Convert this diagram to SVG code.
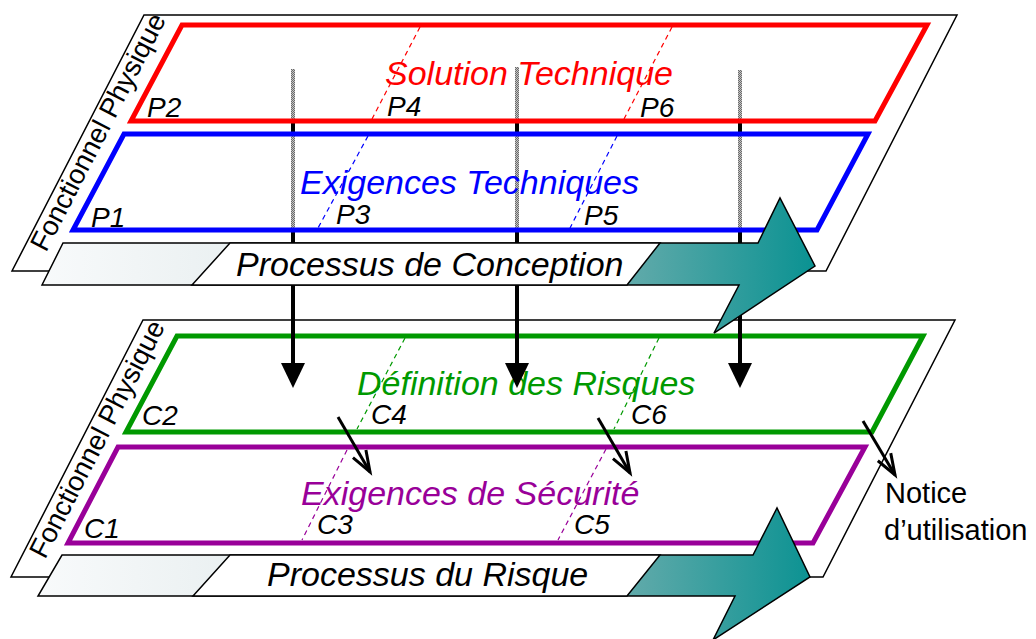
<svg xmlns="http://www.w3.org/2000/svg" width="1036" height="639" viewBox="0 0 1036 639">
<defs>
<style>
.plane{fill:#fff;stroke:#000;stroke-width:1.5}
.fr{fill:none;stroke-width:5;stroke-linejoin:miter}
.dash{fill:none;stroke-width:1.2;stroke-dasharray:5 4}
.t{font-family:"Liberation Sans",Arial,sans-serif;}
.it{font-style:italic}
.big{font-size:34px}
.lab{font-size:28px;fill:#000}
.side{font-size:27.5px;fill:#000}
.band{stroke:#000;stroke-width:1.5;fill:url(#grad)}
.box{fill:#fff;stroke:#000;stroke-width:1.5}
.vline{stroke:#000;stroke-width:4}
.dline{stroke:#000;stroke-width:3;fill:none}
</style>
<linearGradient id="grad" gradientUnits="userSpaceOnUse" x1="40" y1="0" x2="815" y2="0">
<stop offset="0" stop-color="#f8fafb"/>
<stop offset="0.25" stop-color="#eaf0f1"/>
<stop offset="0.78" stop-color="#5aa8a8"/>
<stop offset="1" stop-color="#0a9292"/>
</linearGradient>
<pattern id="dots" width="2" height="2" patternUnits="userSpaceOnUse">
<rect width="2" height="2" fill="#c4c4c4"/>
<rect width="1" height="1" fill="#6a6a6a"/>
<rect x="1" y="1" width="1" height="1" fill="#6a6a6a"/>
</pattern>
<marker id="open" markerUnits="userSpaceOnUse" markerWidth="30" markerHeight="30" orient="auto" overflow="visible">
<path d="M-21,-7.5 L0,0 L-21,7.5" fill="none" stroke="#000" stroke-width="3"/>
</marker>
</defs>

<g id="lower-plane">
<polygon class="plane" points="143,320 955,320 823,577 11,577"/>
<text class="t side" transform="translate(45,560) rotate(-62.7)">Fonctionnel Physique</text>
</g>
<g id="definition-risques">
<polygon class="fr" stroke="#009900" points="177,336 923,336 872,432 126,432"/>
<line class="dash" stroke="#009900" x1="405" y1="338" x2="357" y2="429"/>
<line class="dash" stroke="#009900" x1="659" y1="338" x2="614" y2="429"/>
<text class="t it big" x="357" y="395" fill="#009900">Définition des Risques</text>
<text class="t it lab" x="142" y="425">C2</text>
<text class="t it lab" x="371" y="424">C4</text>
<text class="t it lab" x="631" y="424">C6</text>
</g>
<g id="exigences-securite">
<polygon class="fr" stroke="#990099" points="118,447 865,447 813,543 68,543"/>
<line class="dash" stroke="#990099" x1="347" y1="450" x2="302" y2="540"/>
<line class="dash" stroke="#990099" x1="606" y1="449" x2="558" y2="540"/>
<text class="t it big" x="301" y="505" fill="#990099">Exigences de Sécurité</text>
<text class="t it lab" x="84" y="538">C1</text>
<text class="t it lab" x="317" y="534">C3</text>
<text class="t it lab" x="574" y="534">C5</text>
</g>

<g id="upper-plane">
<polygon class="plane" points="144,15 957,15 826,271 12,271"/>
<text class="t side" transform="translate(46,253) rotate(-62.7)">Fonctionnel Physique</text>
</g>

<g id="connectors">
<g id="vertical-arrows">
<line class="vline" x1="293" y1="69" x2="293" y2="366"/>
<polygon points="281,363 305,363 293,388" fill="#000"/>
<line class="vline" x1="517" y1="67" x2="517" y2="366"/>
<polygon points="505,363 529,363 517,388" fill="#000"/>
<line class="vline" x1="740" y1="70" x2="740" y2="366"/>
<polygon points="728,363 752,363 740,388" fill="#000"/>
<rect x="291" y="69" width="4" height="52" fill="url(#dots)"/>
<rect x="291" y="135" width="4" height="94" fill="url(#dots)"/>
<rect x="515" y="67" width="4" height="54" fill="url(#dots)"/>
<rect x="515" y="135" width="4" height="94" fill="url(#dots)"/>
<rect x="738" y="70" width="4" height="51" fill="url(#dots)"/>
<rect x="738" y="135" width="4" height="94" fill="url(#dots)"/>
</g>
<line class="dline" x1="338" y1="417" x2="370" y2="472" marker-end="url(#open)"/>
<line class="dline" x1="598" y1="418" x2="630" y2="473" marker-end="url(#open)"/>
<line class="dline" x1="863" y1="421" x2="895" y2="475" marker-end="url(#open)"/>
</g>

<g id="solution-technique">
<polygon class="fr" stroke="#ff0000" points="182,25 927,25 875,121 131,121"/>
<line class="dash" stroke="#ff0000" x1="420" y1="27" x2="372" y2="119"/>
<line class="dash" stroke="#ff0000" x1="672" y1="27" x2="624" y2="119"/>
<text class="t it big" x="385" y="85" fill="#ff0000">Solution Technique</text>
<text class="t it lab" x="147" y="117">P2</text>
<text class="t it lab" x="387" y="116">P4</text>
<text class="t it lab" x="640" y="117">P6</text>
</g>
<g id="exigences-techniques">
<polygon class="fr" stroke="#0000ff" points="124,134 868,134 817,230 73,230"/>
<line class="dash" stroke="#0000ff" x1="368" y1="136" x2="318" y2="228"/>
<line class="dash" stroke="#0000ff" x1="617" y1="136" x2="570" y2="228"/>
<text class="t it big" x="300" y="194" fill="#0000ff">Exigences Techniques</text>
<text class="t it lab" x="91" y="227">P1</text>
<text class="t it lab" x="336" y="224">P3</text>
<text class="t it lab" x="584" y="225">P5</text>
</g>

<g id="processus-conception">
<path class="band" d="M63,243 L758,243 L780,198 L815,266 L714,333 L739,285 L42,285 Z"/>
<path class="box" d="M230,243 L660,243 L627,285 L192,285 Z"/>
<text class="t it big" x="236" y="276" fill="#000">Processus de Conception</text>
</g>

<g id="processus-risque">
<path class="band" d="M62,555 L753,555 L777,508 L810,577 L713,640 L735,596 L38,596 Z"/>
<path class="box" d="M230,555 L660,555 L627,596 L193,596 Z"/>
<text class="t it big" x="267" y="586" fill="#000">Processus du Risque</text>
</g>

<g id="notice">
<text class="t" font-size="29" x="885" y="503" fill="#000">Notice</text>
<text class="t" font-size="29" x="884" y="540" fill="#000">d’utilisation</text>
</g>
</svg>
